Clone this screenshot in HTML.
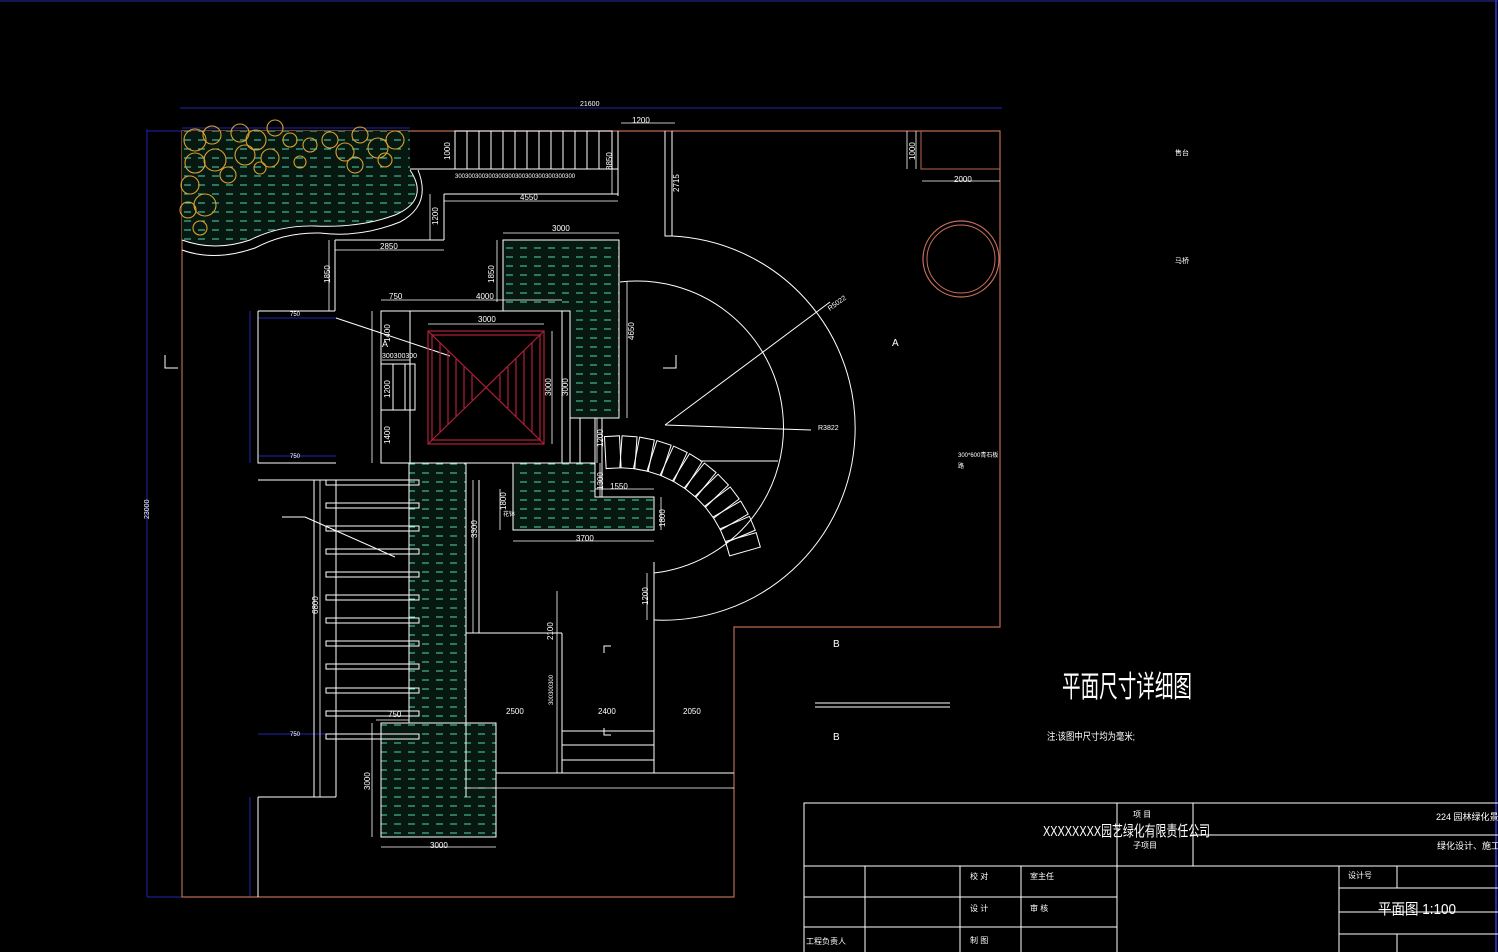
<!DOCTYPE html>
<html><head><meta charset="utf-8"><style>
html,body{margin:0;padding:0;background:#000;width:1498px;height:952px;overflow:hidden}
svg{display:block}
text{font-family:"Liberation Sans","Noto Sans CJK SC",sans-serif;fill:#fff}
</style></head><body>
<svg width="1498" height="952" viewBox="0 0 1498 952" xmlns="http://www.w3.org/2000/svg">
<defs>
<pattern id="w" width="14" height="9" patternUnits="userSpaceOnUse">
<rect width="14" height="9" fill="#06180f"/>
<line x1="2" y1="5" x2="9" y2="5" stroke="#4fd6b4" stroke-width="1"/>
</pattern>
</defs>
<rect width="1498" height="952" fill="#000"/>
<line x1="0" y1="1" x2="1498" y2="1" stroke="#2a2aa0"/>
<line x1="1496" y1="0" x2="1496" y2="952" stroke="#2a2aa0" stroke-width="2"/>

<g stroke="#2323b0" fill="none" stroke-width="1">
<line x1="180" y1="108" x2="1002" y2="108"/>
<line x1="147" y1="129" x2="147" y2="897"/>
<line x1="147" y1="131" x2="182" y2="131"/>
<line x1="147" y1="897" x2="182" y2="897"/>
<line x1="250" y1="311" x2="250" y2="463"/>
<line x1="258" y1="318" x2="336" y2="318"/>
<line x1="258" y1="456" x2="336" y2="456"/>
<line x1="258" y1="734" x2="336" y2="734"/>
<line x1="250" y1="797" x2="250" y2="897"/>
<line x1="182" y1="128" x2="410" y2="128"/>
</g>
<g fill="#3030c0" font-size="7">
<text x="580" y="106">21600</text><text x="140" y="520" transform="rotate(-90 144 515)">23000</text>
</g>

<path d="M182,131 L1000,131 L1000,627 L734,627 L734,897 L182,897 Z" fill="none" stroke="#b86a50" stroke-width="1.2"/>
<path d="M921,131 L921,169 L1000,169" fill="none" stroke="#b86a50"/>
<circle cx="961" cy="259" r="38" fill="none" stroke="#c8705a" stroke-width="1.2"/>
<circle cx="961" cy="259" r="34" fill="none" stroke="#c8705a" stroke-width="1"/>

<path d="M182,131 L410,131 L410,170 Q430,200 395,215 Q360,228 315,226 Q280,225 250,240 Q215,252 182,240 Z" fill="url(#w)"/>
<path d="M418,170 Q432,205 400,222 Q360,238 320,233 Q285,232 255,248 Q215,262 182,250" fill="none" stroke="#fff"/>
<path d="M410,170 Q430,200 395,215 Q360,228 315,226 Q280,225 250,240 Q215,252 182,240" fill="none" stroke="#fff"/>
<g fill="none" stroke="#d8a030" stroke-width="1.1">
<circle cx="195" cy="140" r="11"/><circle cx="212" cy="135" r="9"/><circle cx="240" cy="133" r="9"/><circle cx="256" cy="140" r="10"/><circle cx="275" cy="128" r="8"/>
<circle cx="195" cy="163" r="10"/><circle cx="215" cy="160" r="11"/><circle cx="245" cy="155" r="10"/><circle cx="270" cy="158" r="9"/><circle cx="290" cy="140" r="7"/>
<circle cx="190" cy="185" r="9"/><circle cx="205" cy="205" r="11"/><circle cx="188" cy="210" r="8"/><circle cx="310" cy="145" r="7"/><circle cx="330" cy="140" r="8"/>
<circle cx="345" cy="152" r="9"/><circle cx="360" cy="135" r="8"/><circle cx="378" cy="148" r="10"/><circle cx="395" cy="140" r="9"/><circle cx="385" cy="160" r="7"/>
<circle cx="355" cy="165" r="8"/><circle cx="300" cy="162" r="6"/><circle cx="228" cy="175" r="8"/><circle cx="200" cy="228" r="7"/><circle cx="260" cy="168" r="6"/>
</g>

<!-- water areas -->
<g fill="url(#w)" stroke="#fff">
<rect x="503" y="240" width="116" height="178"/>
<rect x="409" y="463" width="57" height="334"/>
<rect x="381" y="723" width="115" height="114"/>
<path d="M513,463 L595,463 L595,497 L654,497 L654,530 L513,530 Z"/>
</g>

<g stroke="#fff" fill="none" stroke-width="1">
<path d="M410,169 L618,169 M618,131 L618,196 M444,194 L618,194 M444,194 L444,240 M335,240 L444,240 M335,240 L335,311 M258,311 L335,311 M258,311 L258,463 L336,463"/>
<rect x="455" y="131" width="157" height="38"/>
<path d="M467,131V169M479,131V169M491,131V169M503,131V169M515,131V169M527,131V169M539,131V169M551,131V169M563,131V169M575,131V169M587,131V169M599,131V169"/>
<path d="M665,131 L665,236 L672,236 M672,131 L672,236"/>
<rect x="381" y="311" width="189" height="152" fill="#000"/>
<line x1="562" y1="311" x2="562" y2="463"/>
<line x1="410" y1="311" x2="410" y2="463"/>
<rect x="381" y="364" width="34" height="46"/><line x1="393" y1="364" x2="393" y2="410"/><line x1="405" y1="364" x2="405" y2="410"/>
<path d="M570,418 L570,463 M580,418 L580,463 M595,418 L595,463 M602,418 L602,497"/>
<path d="M672,236 A192,192 0 0 1 654,620"/>
<path d="M620,282 A146,146 0 0 1 654,573"/>
<path d="M654,562 L654,627"/>
<line x1="665" y1="425" x2="830" y2="302"/>
<line x1="665" y1="425" x2="811" y2="430"/>
<line x1="700" y1="461" x2="778" y2="461"/>
<line x1="336" y1="318" x2="450" y2="356"/>
<line x1="282" y1="517" x2="305" y2="517"/><line x1="305" y1="517" x2="395" y2="557"/>
<path d="M314,480V797M336,480V797M258,797H336M258,797V897M258,480H336"/>
<path d="M466,480 L466,797 M479,480 L479,633 M466,633 L562,633 M562,633 L562,773 M654,562 L654,773 M562,731 H654 M562,745 H654 M562,760 H654 M496,773 H734"/>
<line x1="815" y1="703" x2="950" y2="703"/><line x1="815" y1="707" x2="950" y2="707"/>
<path d="M165,355 V368 H178 M676,355 V368 H663 M604,653 V646 H611 M604,728 V735 H611"/>
</g>
<g fill="none" stroke="#fff">
<rect x="326" y="480" width="93" height="5"/><rect x="326" y="503" width="93" height="5"/><rect x="326" y="526" width="93" height="5"/><rect x="326" y="549" width="93" height="5"/>
<rect x="326" y="572" width="93" height="5"/><rect x="326" y="595" width="93" height="5"/><rect x="326" y="618" width="93" height="5"/><rect x="326" y="641" width="93" height="5"/>
<rect x="326" y="664" width="93" height="5"/><rect x="326" y="688" width="93" height="5"/><rect x="326" y="711" width="93" height="5"/><rect x="326" y="734" width="93" height="5"/>
</g>

<g stroke="#b0203a" fill="none" stroke-width="1.2">
<rect x="428" y="331" width="116" height="113"/>
<rect x="432" y="335" width="108" height="105"/>
<line x1="428" y1="331" x2="544" y2="444"/><line x1="544" y1="331" x2="428" y2="444"/>
<path d="M440,343V432M448,351V424M456,359V416M464,367V408M472,375V400 M532,343V432M524,351V424M516,359V416M508,367V408M500,375V400"/>
</g>

<g fill="none" stroke="#fff">
<rect x="732" y="572" width="32" height="15" transform="rotate(-93 620 580)"/>
<rect x="732" y="572" width="32" height="15" transform="rotate(-86 620 580)"/>
<rect x="732" y="572" width="32" height="15" transform="rotate(-79 620 580)"/>
<rect x="732" y="572" width="32" height="15" transform="rotate(-72 620 580)"/>
<rect x="732" y="572" width="32" height="15" transform="rotate(-65 620 580)"/>
<rect x="732" y="572" width="32" height="15" transform="rotate(-58 620 580)"/>
<rect x="732" y="572" width="32" height="15" transform="rotate(-51 620 580)"/>
<rect x="732" y="572" width="32" height="15" transform="rotate(-44 620 580)"/>
<rect x="732" y="572" width="32" height="15" transform="rotate(-37 620 580)"/>
<rect x="732" y="572" width="32" height="15" transform="rotate(-30 620 580)"/>
<rect x="732" y="572" width="32" height="15" transform="rotate(-23 620 580)"/>
<rect x="732" y="572" width="32" height="15" transform="rotate(-16 620 580)"/>
</g>

<g stroke="#fff" fill="none" stroke-width="0.8">
<path d="M621,123H675 M922,181H1000 M916,131V169 M444,201H618 M430,194V240 M335,250H444 M329,240V311 M503,233H619 M497,240V302 M627,282V418 M381,300H410 M410,300H562 M428,324H544 M552,331V444 M372,311V463 M382,360H410 M597,418V463 M600,463V497 M595,489H654 M661,497V530 M500,489V530 M513,541H654 M473,480V633 M557,591V731 M557,731V773 M466,788H734 M376,720H409 M372,723V837 M381,847H496 M647,573V620 M907,131V169 M320,480V797 M612,145V194"/>
</g>

<g font-size="8" fill="#fff">
<text x="632" y="123">1200</text>
<text x="954" y="182">2000</text>
<text x="520" y="200">4550</text>
<text x="380" y="249">2850</text>
<text x="552" y="231">3000</text>
<text x="389" y="299">750</text>
<text x="476" y="299">4000</text>
<text x="478" y="322">3000</text>
<text x="382" y="358" font-size="7">300300300</text>
<text x="610" y="489">1550</text>
<text x="576" y="541">3700</text>
<text x="506" y="714">2500</text>
<text x="598" y="714">2400</text>
<text x="683" y="714">2050</text>
<text x="388" y="717">750</text>
<text x="430" y="848">3000</text>
<text x="455" y="178" font-size="6">300300300300300300300300300300300300</text>
<text x="818" y="430" font-size="7">R3822</text>
<text x="827" y="310" font-size="7" transform="rotate(-36 830 306)">R5022</text>
<text x="290" y="316" font-size="6">750</text>
<text x="290" y="458" font-size="6">750</text>
<text x="290" y="736" font-size="6">750</text>
</g>
<g font-size="8" fill="#fff">
<text transform="translate(450,160) rotate(-90)">1000</text>
<text transform="translate(438,225) rotate(-90)">1200</text>
<text transform="translate(330,283) rotate(-90)">1850</text>
<text transform="translate(494,283) rotate(-90)">1850</text>
<text transform="translate(634,340) rotate(-90)">4650</text>
<text transform="translate(390,342) rotate(-90)">1400</text>
<text transform="translate(390,398) rotate(-90)">1200</text>
<text transform="translate(390,444) rotate(-90)">1400</text>
<text transform="translate(551,396) rotate(-90)">3000</text>
<text transform="translate(568,396) rotate(-90)">3000</text>
<text transform="translate(603,447) rotate(-90)">1200</text>
<text transform="translate(603,490) rotate(-90)">1300</text>
<text transform="translate(506,510) rotate(-90)">1800</text>
<text transform="translate(665,527) rotate(-90)">1800</text>
<text transform="translate(477,538) rotate(-90)">3300</text>
<text transform="translate(553,640) rotate(-90)">2100</text>
<text transform="translate(553,705) rotate(-90)" font-size="6">300300300</text>
<text transform="translate(648,605) rotate(-90)">1200</text>
<text transform="translate(318,614) rotate(-90)">6800</text>
<text transform="translate(370,790) rotate(-90)">3000</text>
<text transform="translate(915,160) rotate(-90)">1000</text>
<text transform="translate(679,192) rotate(-90)">2715</text>
<text transform="translate(612,170) rotate(-90)">8850</text>
</g>

<g font-size="10" fill="#fff">
<text x="892" y="346">A</text>
<text x="382" y="347" font-size="9">A</text>
<text x="833" y="647">B</text>
<text x="833" y="740">B</text>
<text x="1175" y="155" font-size="7">售台</text>
<text x="1175" y="263" font-size="7">马桥</text>
<text x="958" y="457" font-size="6">300*600青石板</text>
<text x="958" y="468" font-size="6">路</text>
<text x="503" y="516" font-size="6">花钵</text>
</g>
<text x="1062" y="697" font-size="30" textLength="130" lengthAdjust="spacingAndGlyphs">平面尺寸详细图</text>
<text x="1047" y="740" font-size="10" textLength="88" lengthAdjust="spacingAndGlyphs">注:该图中尺寸均为毫米;</text>

<g stroke="#fff" fill="none" stroke-width="1">
<rect x="804" y="803" width="700" height="160"/>
<path d="M804,866H1498 M1117,803V952 M1193,803V866 M1193,835H1498 M804,897H1117 M804,927H1117 M865,866V952 M960,866V952 M1021,866V952 M1339,866V952 M1339,888H1498 M1339,912H1498 M1339,934H1498 M1397,866V888 M1397,934V952"/>
</g>
<g fill="#fff">
<text x="1043" y="836" font-size="15" textLength="167" lengthAdjust="spacingAndGlyphs">XXXXXXXX园艺绿化有限责任公司</text>
<text x="1133" y="817" font-size="8">项 目</text>
<text x="1133" y="848" font-size="8">子项目</text>
<text x="1436" y="820" font-size="9">224 园林绿化景观</text>
<text x="1437" y="849" font-size="9">绿化设计、施工</text>
<text x="970" y="879" font-size="8">校 对</text>
<text x="1030" y="879" font-size="8">室主任</text>
<text x="970" y="911" font-size="8">设 计</text>
<text x="1030" y="911" font-size="8">审 核</text>
<text x="970" y="943" font-size="8">制 图</text>
<text x="806" y="944" font-size="8">工程负责人</text>
<text x="1348" y="878" font-size="8">设计号</text>
<text x="1378" y="914" font-size="15" textLength="78" lengthAdjust="spacingAndGlyphs">平面图  1:100</text>
</g>
</svg>
</body></html>
